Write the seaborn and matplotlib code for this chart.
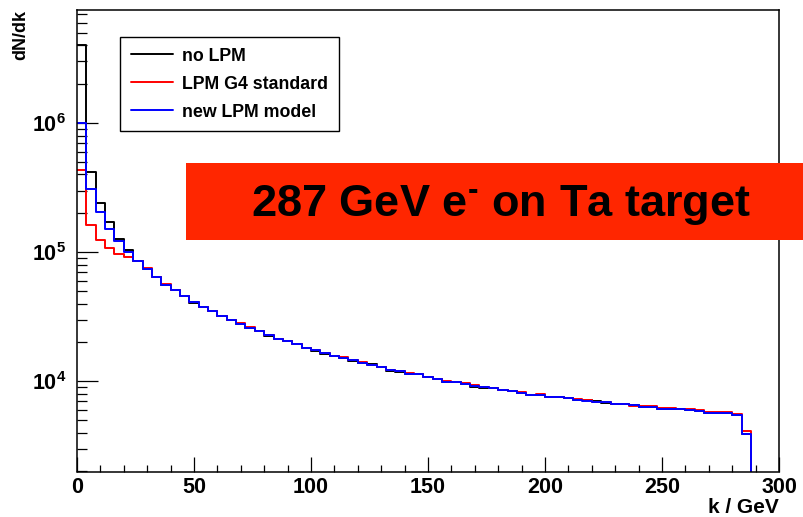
import numpy as np
import pandas as pd
import seaborn as sns
import matplotlib.pyplot as plt
from matplotlib.patches import Rectangle
from matplotlib.ticker import MultipleLocator, LogLocator, NullFormatter

# photon spectrum dN/dk, 75 bins of 4 GeV from 0 to 300 GeV
bin_edges = list(range(0, 304, 4))

no_lpm = [4.0e6, 4.2e5, 2.4e5, 1.71e5, 1.27e5, 1.03e5, 8.5e4, 7.4e4, 6.4e4, 5.6e4,
          5.05e4, 4.54e4, 4.05e4, 3.75e4, 3.47e4, 3.21e4, 2.96e4, 2.79e4, 2.59e4, 2.44e4,
          2.26e4, 2.11e4, 2.04e4, 1.93e4, 1.82e4, 1.73e4, 1.64e4, 1.58e4, 1.52e4, 1.43e4,
          1.38e4, 1.35e4, 1.28e4, 1.21e4, 1.18e4, 1.14e4, 1.13e4, 1.07e4, 1.04e4, 9.95e3,
          9.9e3, 9.55e3, 9.0e3, 8.9e3, 8.9e3, 8.48e3, 8.42e3, 8.07e3, 7.8e3, 7.85e3,
          7.61e3, 7.6e3, 7.38e3, 7.21e3, 7.1e3, 7.0e3, 6.8e3, 6.68e3, 6.63e3, 6.52e3,
          6.37e3, 6.37e3, 6.15e3, 6.15e3, 6.15e3, 6.0e3, 5.93e3, 5.69e3, 5.69e3, 5.69e3,
          5.52e3, 3.91e3, 0, 0, 0]

lpm_g4 = [4.35e5, 1.61e5, 1.25e5, 1.08e5, 9.7e4, 9.1e4, 8.5e4, 7.6e4, 6.4e4, 5.7e4,
          5.05e4, 4.54e4, 4.10e4, 3.75e4, 3.47e4, 3.21e4, 2.96e4, 2.85e4, 2.63e4, 2.44e4,
          2.29e4, 2.14e4, 2.04e4, 1.96e4, 1.82e4, 1.75e4, 1.65e4, 1.58e4, 1.55e4, 1.47e4,
          1.40e4, 1.33e4, 1.30e4, 1.23e4, 1.20e4, 1.16e4, 1.13e4, 1.07e4, 1.04e4, 1.01e4,
          9.9e3, 9.7e3, 9.4e3, 9.0e3, 8.9e3, 8.6e3, 8.42e3, 8.2e3, 7.88e3, 7.9e3,
          7.61e3, 7.6e3, 7.38e3, 7.3e3, 7.15e3, 6.95e3, 6.87e3, 6.68e3, 6.63e3, 6.4e3,
          6.45e3, 6.45e3, 6.25e3, 6.2e3, 6.15e3, 6.05e3, 6.0e3, 5.8e3, 5.78e3, 5.75e3,
          5.6e3, 4.15e3, 0, 0, 0]

new_lpm = [1.0e6, 3.1e5, 2.04e5, 1.52e5, 1.22e5, 1.0e5, 8.5e4, 7.4e4, 6.4e4, 5.6e4,
           5.05e4, 4.54e4, 4.10e4, 3.75e4, 3.47e4, 3.21e4, 2.96e4, 2.79e4, 2.59e4, 2.44e4,
           2.29e4, 2.14e4, 2.04e4, 1.93e4, 1.82e4, 1.75e4, 1.65e4, 1.58e4, 1.52e4, 1.45e4,
           1.38e4, 1.34e4, 1.28e4, 1.23e4, 1.20e4, 1.14e4, 1.13e4, 1.07e4, 1.04e4, 9.95e3,
           9.9e3, 9.55e3, 9.2e3, 9.0e3, 8.9e3, 8.48e3, 8.42e3, 8.07e3, 7.88e3, 7.85e3,
           7.61e3, 7.6e3, 7.38e3, 7.21e3, 7.08e3, 6.87e3, 6.87e3, 6.68e3, 6.63e3, 6.5e3,
           6.37e3, 6.37e3, 6.15e3, 6.15e3, 6.15e3, 6.0e3, 5.93e3, 5.69e3, 5.69e3, 5.69e3,
           5.52e3, 3.91e3, 0, 0, 0]

series = [("no LPM", no_lpm, "black"),
          ("LPM G4 standard", lpm_g4, "red"),
          ("new LPM model", new_lpm, "blue")]

sns.set_style("ticks")
plt.rcParams['font.family'] = ['Liberation Sans', 'DejaVu Sans']
plt.rcParams['font.weight'] = 'bold'
plt.rcParams['text.color'] = 'black'
plt.rcParams['axes.labelcolor'] = 'black'
plt.rcParams['xtick.color'] = 'black'
plt.rcParams['ytick.color'] = 'black'
plt.rcParams['mathtext.fontset'] = 'custom'
plt.rcParams['mathtext.rm'] = 'Liberation Sans:bold'
plt.rcParams['mathtext.bf'] = 'Liberation Sans:bold'
plt.rcParams['mathtext.it'] = 'Liberation Sans:bold'

fig = plt.figure(figsize=(8.04, 5.17), dpi=100)
ax = fig.add_axes([77 / 804, 45.5 / 517, 702 / 804, 461.5 / 517])

centers = [e + 2 for e in bin_edges[:-1]]
for name, vals, col in series:
    df = pd.DataFrame({"k": centers, "w": vals})
    sns.histplot(data=df, x="k", weights="w", bins=bin_edges, element="step",
                 fill=False, color=col, linewidth=1.4, label=name, ax=ax)

ax.set_yscale('log', nonpositive='clip')
ax.set_xlim(0, 300)
ax.set_ylim(2000, 7.5e6)

ax.xaxis.set_major_locator(MultipleLocator(50))
ax.xaxis.set_minor_locator(MultipleLocator(10))
ax.yaxis.set_minor_locator(LogLocator(base=10, subs=np.arange(2, 10), numticks=20))
ax.yaxis.set_minor_formatter(NullFormatter())
ax.set_yticks([1e4, 1e5, 1e6], labels=[r'$10^{4}$', r'$10^{5}$', r'$10^{6}$'])

ax.tick_params(axis='both', which='both', direction='in', top=False, right=False,
               width=0.9, labelsize=15.5)
ax.tick_params(axis='x', which='major', length=10.5, pad=4)
ax.tick_params(axis='x', which='minor', length=5.3)
ax.tick_params(axis='y', which='major', length=15, pad=8)
ax.tick_params(axis='y', which='minor', length=7.5)
for sp in ax.spines.values():
    sp.set_linewidth(1.1)
    sp.set_color('black')

ax.set_xlabel('k / GeV', loc='right', fontsize=15, fontweight='bold', labelpad=0)
ax.set_ylabel('dN/dk', loc='top', fontsize=13, fontweight='bold')
ax.yaxis.set_label_coords(-0.068, 1.0)

leg = ax.legend(loc='upper left', bbox_to_anchor=(120 / 804, 1 - 37 / 517),
                bbox_transform=fig.transFigure, borderaxespad=0, fontsize=12.8,
                handlelength=2.4, handletextpad=0.5, labelspacing=0.62,
                borderpad=0.6, fancybox=False, framealpha=1)
leg.get_frame().set_edgecolor('black')
leg.get_frame().set_linewidth(1.0)
for t in leg.get_texts():
    t.set_fontweight('bold')

# red banner
fig.patches.append(Rectangle((186 / 804, 1 - 240 / 517), 618 / 804, 77 / 517,
                             transform=fig.transFigure, facecolor='#ff2600',
                             edgecolor='none', zorder=5))
fig.text(501 / 804, 1 - 205 / 517, r'287 GeV e$^{\text{-}}$ on Ta target',
         fontweight='bold', fontsize=32.5, color='black',
         ha='center', va='center', zorder=6)

fig.savefig('out.png', dpi=100)
